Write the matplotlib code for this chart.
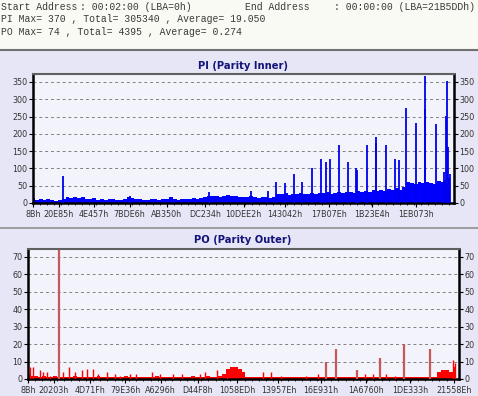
import numpy as np
import matplotlib
matplotlib.use('Agg')
import matplotlib.pyplot as plt
from matplotlib.ticker import FixedLocator, MultipleLocator

LBA_END = 0x21B5DD

# header text
start_label = 'Start Address'
start_value = ': 00:02:00 (LBA=0h)'
end_label = 'End Address'
end_value = ': 00:00:00 (LBA=21B5DDh)'
pi_summary = 'PI Max= 370 , Total= 305340 , Average= 19.050'
po_summary = 'PO Max= 74 , Total= 4395 , Average= 0.274'

# x tick labels (hex LBA)
pi_xlabels = ['8Bh', '20E85h', '4E457h', '7BDE6h', 'AB350h', 'DC234h',
              '10DEE2h', '143042h', '17B07Eh', '1B23E4h', '1EB073h']
po_xlabels = ['8Bh', '20203h', '4D71Fh', '79E36h', 'A6296h', 'D44F8h',
              '1058EDh', '13957Eh', '16E931h', '1A6760h', '1DE333h', '21558Eh']

# PI background level, one value every 20084 sectors
pi_step = 20084
pi_base = [14, 9, 12, 8, 11, 9, 7, 8, 12, 16,
           14, 17, 15, 16, 13, 11, 14, 10, 12, 9,
           11, 13, 10, 9, 12, 17, 14, 11, 13, 10,
           9, 12, 11, 10, 13, 11, 16, 12, 10, 13,
           11, 12, 14, 12, 15, 17, 20, 19, 21, 18,
           20, 22, 19, 21, 18, 17, 16, 19, 17, 15,
           18, 16, 14, 17, 26, 25, 28, 24, 27, 25,
           28, 26, 27, 29, 26, 30, 28, 31, 27, 30,
           32, 29, 31, 33, 30, 34, 31, 35, 33, 37,
           34, 38, 36, 40, 37, 42, 39, 45, 62, 58,
           55, 60, 57, 61, 58, 56, 63, 60, 66, 72]

# PI spikes
pi_spike_lba = [157400, 509000, 729400, 923600, 1142400, 1233200, 1276700,
                1320800, 1368000, 1413200, 1464100, 1512900, 1536000,
                1560100, 1605800, 1653000, 1693400, 1701800, 1751100,
                1798400, 1802000, 1854000, 1898100, 1922200, 1955800,
                2011400, 2055500, 2058600, 2114800, 2155200, 2167300,
                2170900, 2177800, 2189900]
pi_spike_val = [77, 19, 18, 32, 34, 36, 62,
                58, 85, 60, 100, 128, 118,
                126, 168, 118, 101, 94, 168,
                191, 174, 168, 128, 123, 274,
                232, 272, 368, 227, 89, 253,
                352, 162, 85]

# PO background level
po_step = 20084
po_base = [3, 2, 2, 1, 2, 1, 1, 2, 1, 1,
           1, 1, 2, 1, 1, 1, 1, 1, 2, 1,
           1, 1, 1, 1, 1, 2, 1, 1, 1, 1,
           1, 1, 1, 2, 1, 1, 1, 1, 1, 1,
           1, 1, 2, 1, 1, 1, 2, 1, 1, 2,
           3, 6, 7, 7, 6, 4, 1, 1, 1, 1,
           1, 1, 1, 1, 1, 1, 1, 1, 1, 1,
           1, 1, 1, 1, 1, 1, 1, 1, 1, 1,
           1, 1, 1, 1, 1, 1, 1, 1, 1, 1,
           1, 1, 1, 1, 1, 1, 1, 1, 1, 1,
           1, 1, 1, 1, 1, 4, 5, 5, 4, 7]

# PO small error bars
po_small_lba = [10300, 25600, 61500, 76900, 97400, 112800, 179400, 210200,
                240900, 276800, 302400, 333200, 358800, 405000, 446000,
                471600, 522800, 553600, 635600, 676600, 743300, 789400,
                881700, 907300, 968800, 1020100, 1204600, 1245600, 1296900,
                1425000, 1486500, 1727400, 1768400, 1835100, 1881200,
                2178500, 2188700]
po_small_val = [7, 7, 5, 4, 4, 2, 4, 7,
                4, 5, 6, 6, 3, 4, 3,
                2, 3, 3, 4, 3, 3, 3,
                3, 4, 5, 4, 4, 4, 2,
                2, 3, 3, 3, 3, 2,
                11, 9]

# PO large spikes
po_spike_lba = [158900, 1526000, 1577300, 1688000, 1804300, 1925800, 2059100]
po_spike_val = [74, 10, 17, 5, 12, 20, 17]

W, H = 478, 396
fig = plt.figure(figsize=(W / 100, H / 100), dpi=100)
fig.patch.set_facecolor('#e6e6f6')

# header band
fig.patches.append(plt.Rectangle((0, (H - 49) / H), 1, 49 / H, transform=fig.transFigure,
                                 facecolor='#fafaf4', edgecolor='none', zorder=0))
fig.lines.append(plt.Line2D([0, 1], [(H - 50) / H] * 2, transform=fig.transFigure,
                            color='#707070', lw=1.5))
fig.lines.append(plt.Line2D([0, 1], [(H - 228) / H] * 2, transform=fig.transFigure,
                            color='#909090', lw=1.2))

mono = dict(family='Liberation Mono', fontsize=7, color='#3a3a3a', va='center')
fig.text(1 / W, 1 - 7 / H, start_label, **mono)
fig.text(80 / W, 1 - 7 / H, start_value, **mono)
fig.text(245 / W, 1 - 7 / H, end_label, **mono)
fig.text(334 / W, 1 - 7 / H, end_value, **mono)
fig.text(1 / W, 1 - 19.5 / H, pi_summary, **mono)
fig.text(1 / W, 1 - 32 / H, po_summary, **mono)


def style_axes(ax, ymax, ystep, xlabels):
    ax.set_facecolor('#f3f3fc')
    ax.set_xlim(0, LBA_END)
    ax.set_ylim(0, ymax)
    yt = np.arange(0, ymax, ystep)
    ax.set_yticks(yt)
    ax.yaxis.set_ticks_position('both')
    ax.tick_params(axis='y', which='both', labelleft=True, labelright=True,
                   length=3, width=0.8, pad=1, labelsize=5.8, labelcolor='#333333')
    pos = [int(s[:-1], 16) for s in xlabels]
    ax.xaxis.set_major_locator(FixedLocator(pos))
    ax.set_xticklabels(xlabels)
    ax.xaxis.set_minor_locator(MultipleLocator(37000))
    ax.tick_params(axis='x', which='major', length=3, width=0.8, pad=2,
                   labelsize=5.8, labelcolor='#333333')
    ax.tick_params(axis='x', which='minor', length=1.5, width=0.6)
    for y in yt[1:]:
        ax.axhline(y, color='#808080', lw=0.7, ls=(0, (3, 3)), zorder=1)
    for s in ['left', 'bottom', 'right']:
        ax.spines[s].set_linewidth(1.8)
        ax.spines[s].set_color('black')
    ax.spines['top'].set_linewidth(1.5)
    ax.spines['top'].set_color('#606060')


# PI panel
ax1 = fig.add_axes([33 / W, (H - 203) / H, 421 / W, 129 / H])
style_axes(ax1, 373, 50, pi_xlabels)
pi_x = np.arange(len(pi_base)) * pi_step
ax1.fill_between(pi_x, 0, pi_base, step='mid', color='#0000ff', lw=0, zorder=2)
ax1.vlines(pi_spike_lba, 0, pi_spike_val, color='#0000ee', lw=1.3, zorder=3)
fig.text(243 / W, 1 - 66 / H, 'PI (Parity Inner)', ha='center', va='center',
         fontsize=7.2, fontweight='bold', color='#14147a')

# PO panel
ax2 = fig.add_axes([28 / W, (H - 379) / H, 431 / W, 130 / H])
style_axes(ax2, 74.5, 10, po_xlabels)
po_x = np.arange(len(po_base)) * po_step
ax2.fill_between(po_x, 0, po_base, step='mid', color='#ff0000', lw=0, zorder=2)
ax2.vlines(po_small_lba, 0, po_small_val, color='#ff0000', lw=1.0, zorder=3)
ax2.vlines(po_spike_lba, 0, po_spike_val, color='#c85858', lw=1.6, zorder=3)
fig.text(243 / W, 1 - 240 / H, 'PO (Parity Outer)', ha='center', va='center',
         fontsize=7.2, fontweight='bold', color='#14147a')

fig.savefig('out.png', dpi=100, facecolor=fig.get_facecolor())
